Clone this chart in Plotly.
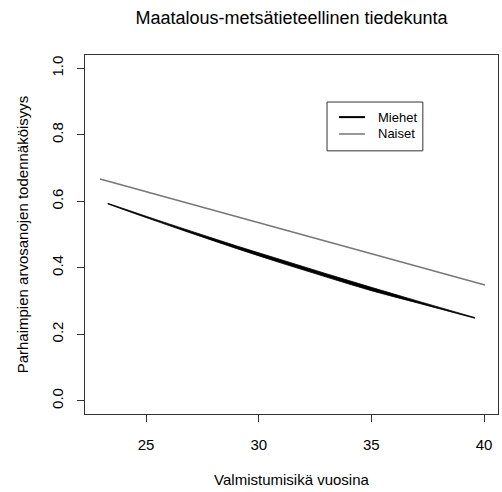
import plotly.graph_objects as go

# Data
miehet_x = [23.3, 25, 27, 29, 31, 33, 35, 37, 39.6]
miehet_hi = [0.594, 0.555, 0.510, 0.466, 0.424, 0.382, 0.341, 0.301, 0.250]
miehet_lo = [0.592, 0.551, 0.504, 0.458, 0.414, 0.372, 0.331, 0.295, 0.248]
naiset_x = [22.96, 40.04]
naiset_y = [0.667, 0.348]
series_names = ["Miehet", "Naiset"]
x_ticks = [25, 30, 35, 40]
y_ticks = [0.0, 0.2, 0.4, 0.6, 0.8, 1.0]

FONT = "Liberation Sans, Arial, sans-serif"
BLACK = "#000000"
GRAY = "#777777"

fig = go.Figure()
# Miehet band (overlapping lines render as a band)
fig.add_trace(go.Scatter(x=miehet_x, y=miehet_lo, mode="lines",
                         line=dict(color=BLACK, width=0.8, shape="spline"), showlegend=False,
                         hoverinfo="skip"))
fig.add_trace(go.Scatter(x=miehet_x, y=miehet_hi, mode="lines",
                         line=dict(color=BLACK, width=0.8, shape="spline"), fill="tonexty",
                         fillcolor=BLACK, showlegend=False, hoverinfo="skip"))
fig.add_trace(go.Scatter(x=naiset_x, y=naiset_y, mode="lines",
                         line=dict(color=GRAY, width=1.5), showlegend=False))

# Custom legend (R style)
lx0, lx1, ly0, ly1 = 0.586, 0.818, 0.733, 0.869
fig.add_shape(type="rect", xref="paper", yref="paper", x0=lx0, x1=lx1, y0=ly0, y1=ly1,
              line=dict(color="#333333", width=1), fillcolor="white")
for name, col, w, yy in [(series_names[0], BLACK, 2, 0.827), (series_names[1], GRAY, 1.5, 0.780)]:
    fig.add_shape(type="line", xref="paper", yref="paper", x0=0.615, x1=0.678, y0=yy, y1=yy,
                  line=dict(color=col, width=w))
    fig.add_annotation(xref="paper", yref="paper", x=0.705, y=yy, text=name, showarrow=False,
                       xanchor="left", yanchor="middle", font=dict(family=FONT, size=13, color="#000"))

fig.update_layout(
    width=502, height=492,
    margin=dict(l=85, r=4, t=55, b=78),
    paper_bgcolor="white", plot_bgcolor="white",
    font=dict(family=FONT, size=15, color="#000"),
    title=dict(text="Maatalous-metsätieteellinen tiedekunta", x=0.5807,
               xanchor="center", y=1 - 18 / 492, yanchor="middle",
               font=dict(family=FONT, size=18, color="#000")),
    showlegend=False,
)
fig.update_xaxes(range=[22.29, 40.62], tickvals=x_ticks, ticks="outside", ticklen=7,
                 tickcolor="#333", showline=True, linecolor="#333", linewidth=1, mirror=True,
                 showgrid=False, zeroline=False, ticklabelstandoff=10,
                 title=dict(text="Valmistumisikä vuosina", standoff=22, font=dict(size=15)))
fig.update_yaxes(range=[-0.04, 1.04], tickvals=y_ticks, tickformat=".1f", ticks="outside",
                 ticklen=7, tickcolor="#333", tickangle=-90, showline=True, linecolor="#333",
                 linewidth=1, mirror=True, showgrid=False, zeroline=False, ticklabelstandoff=8,
                 title=dict(text="Parhaimpien arvosanojen todennäköisyys", standoff=16,
                            font=dict(size=15)))

fig.write_html("out.html")
